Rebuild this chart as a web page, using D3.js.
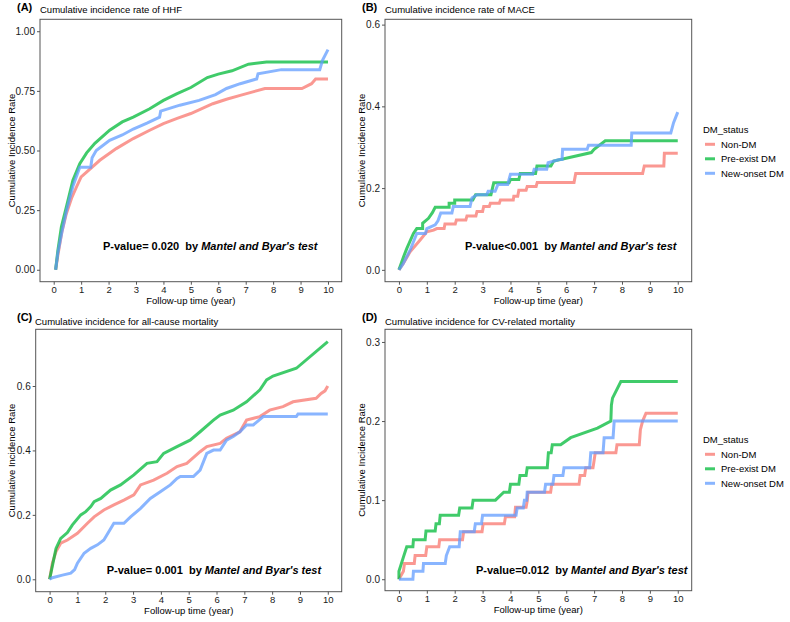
<!DOCTYPE html>
<html>
<head>
<meta charset="utf-8">
<script src="https://cdn.jsdelivr.net/npm/d3@7"></script>
<style>
  body { margin: 0; background: #fff; }
  svg text { font-family: "Liberation Sans", Arial, sans-serif; }
</style>
</head>
<body>
<div id="chart-area"></div>
<script>
// groups and shared ticks
const groups = ['Non-DM', 'Pre-exist DM', 'New-onset DM'];
const colors = ['#F8766D', '#00BA38', '#619CFF'];
const timeTicks = [0, 1, 2, 3, 4, 5, 6, 7, 8, 9, 10];

// (A) HHF  [time, cumulative incidence]
const hhfNonDM = [[0.07,0],[0.15,0.06],[0.3,0.16],[0.46,0.235],[0.65,0.3],[0.83,0.347],[1.0,0.389],[1.3,0.42],[1.68,0.459],[2.28,0.508],[2.9,0.55],[3.5,0.585],[4.0,0.613],[4.5,0.635],[5.0,0.655],[5.8,0.696],[6.3,0.715],[6.8,0.731],[7.7,0.76],[9.05,0.76],[9.4,0.78],[9.55,0.8],[10,0.8]];
const hhfPreDM = [[0.07,0],[0.15,0.08],[0.28,0.18],[0.46,0.263],[0.7,0.375],[0.95,0.445],[1.2,0.49],[1.5,0.53],[2.04,0.585],[2.5,0.62],[2.9,0.64],[3.5,0.675],[4.0,0.71],[4.5,0.738],[5.0,0.764],[5.6,0.806],[6.0,0.82],[6.5,0.834],[7.1,0.862],[7.76,0.871],[10,0.871]];
const hhfNewDM = [[0.07,0],[0.15,0.07],[0.3,0.16],[0.46,0.245],[0.7,0.35],[0.95,0.43],[1.35,0.43],[1.4,0.47],[1.55,0.5],[2.04,0.543],[2.5,0.565],[2.9,0.59],[3.4,0.615],[3.86,0.64],[3.9,0.665],[4.6,0.69],[5.3,0.71],[5.9,0.734],[6.3,0.76],[6.8,0.78],[7.4,0.8],[7.45,0.822],[8.3,0.839],[9.7,0.839],[9.8,0.878],[10,0.923]];

// (B) MACE
const maceNonDM = [[0,0],[0.15,0.015],[0.4,0.044],[0.76,0.073],[1.0,0.093],[1.24,0.097],[1.36,0.101],[1.62,0.101],[1.65,0.112],[2.02,0.112],[2.06,0.122],[2.4,0.122],[2.44,0.132],[2.76,0.132],[2.8,0.143],[3.0,0.143],[3.04,0.155],[3.24,0.155],[3.28,0.163],[3.6,0.163],[3.64,0.171],[4.1,0.171],[4.12,0.18],[4.26,0.18],[4.3,0.195],[4.56,0.195],[4.6,0.204],[4.92,0.204],[4.96,0.214],[6.28,0.214],[6.34,0.236],[8.74,0.236],[8.8,0.254],[9.5,0.254],[9.52,0.285],[10,0.285]];
const macePreDM = [[0,0],[0.16,0.031],[0.28,0.052],[0.52,0.089],[0.64,0.101],[0.85,0.101],[0.85,0.114],[1.06,0.126],[1.2,0.14],[1.3,0.153],[1.8,0.153],[1.8,0.163],[2.0,0.163],[2.0,0.171],[2.65,0.171],[2.75,0.184],[3.3,0.184],[3.4,0.213],[3.95,0.213],[4.0,0.221],[4.3,0.221],[4.35,0.236],[4.9,0.236],[4.95,0.254],[5.45,0.254],[5.55,0.266],[6.9,0.287],[7.0,0.295],[7.4,0.316],[10,0.316]];
const maceNewDM = [[0,0],[0.15,0.015],[0.4,0.048],[0.64,0.089],[0.95,0.089],[1.0,0.101],[1.3,0.11],[1.4,0.12],[1.5,0.139],[1.9,0.139],[1.95,0.155],[2.55,0.155],[2.62,0.176],[2.8,0.184],[3.15,0.184],[3.2,0.192],[3.45,0.192],[3.55,0.209],[3.9,0.209],[4.0,0.234],[4.8,0.234],[4.85,0.246],[5.3,0.246],[5.35,0.262],[5.75,0.27],[5.85,0.27],[5.87,0.295],[6.75,0.295],[6.8,0.305],[8.33,0.305],[8.35,0.335],[9.75,0.335],[9.85,0.36],[10,0.386]];

// (C) all-cause mortality
const acmNonDM = [[0,0],[0.1,0.05],[0.23,0.086],[0.4,0.112],[0.64,0.122],[1.0,0.143],[1.36,0.174],[1.6,0.194],[1.95,0.215],[2.31,0.231],[2.67,0.246],[3.03,0.262],[3.27,0.293],[3.74,0.308],[4.22,0.329],[4.58,0.35],[4.93,0.36],[5.41,0.396],[5.65,0.412],[6.13,0.422],[6.36,0.438],[6.84,0.458],[7.08,0.494],[7.56,0.505],[7.91,0.525],[8.39,0.536],[8.75,0.551],[9.58,0.562],[9.76,0.577],[9.9,0.585],[10,0.6]];
const acmPreDM = [[0,0],[0.12,0.05],[0.23,0.096],[0.4,0.127],[0.64,0.145],[0.82,0.169],[1.12,0.2],[1.3,0.21],[1.48,0.226],[1.6,0.241],[1.84,0.251],[2.19,0.277],[2.55,0.293],[3.03,0.324],[3.5,0.36],[3.86,0.365],[4.1,0.391],[4.58,0.412],[5.05,0.432],[5.41,0.458],[5.89,0.494],[6.13,0.51],[6.6,0.525],[7.08,0.551],[7.56,0.588],[7.8,0.619],[8.03,0.631],[8.87,0.655],[10,0.738]];
const acmNewDM = [[0,0],[0.1,0.005],[0.46,0.013],[0.76,0.019],[0.9,0.03],[1.0,0.05],[1.24,0.081],[1.48,0.096],[1.72,0.107],[1.95,0.122],[2.31,0.174],[2.67,0.174],[2.91,0.194],[3.27,0.22],[3.62,0.251],[3.98,0.272],[4.34,0.293],[4.58,0.313],[4.7,0.319],[5.17,0.319],[5.41,0.339],[5.65,0.391],[5.89,0.401],[6.13,0.401],[6.36,0.432],[6.6,0.443],[6.84,0.458],[7.08,0.479],[7.32,0.479],[7.68,0.505],[8.87,0.505],[8.93,0.513],[10,0.513]];

// (D) CV-related mortality
const cvmNonDM = [[0,0],[0.16,0.01],[0.2,0.02],[0.55,0.02],[0.58,0.03],[0.96,0.03],[1.0,0.041],[1.43,0.041],[1.46,0.05],[2.28,0.05],[2.32,0.06],[2.98,0.06],[3.02,0.07],[3.78,0.07],[3.82,0.079],[4.15,0.079],[4.18,0.091],[4.56,0.091],[4.6,0.099],[4.63,0.11],[5.44,0.11],[5.48,0.12],[6.46,0.12],[6.5,0.131],[6.66,0.131],[6.7,0.141],[6.96,0.141],[7.0,0.15],[7.04,0.16],[7.78,0.16],[7.82,0.17],[8.62,0.17],[8.66,0.189],[8.74,0.2],[8.86,0.21],[10,0.21]];
const cvmPreDM = [[0,0],[0,0.01],[0.16,0.028],[0.28,0.041],[0.5,0.041],[0.52,0.05],[0.94,0.05],[0.97,0.061],[1.3,0.061],[1.33,0.07],[1.45,0.07],[1.48,0.081],[2.14,0.081],[2.18,0.09],[2.62,0.09],[2.66,0.1],[3.46,0.1],[3.76,0.11],[3.96,0.11],[4.0,0.12],[4.3,0.12],[4.34,0.131],[4.56,0.131],[4.6,0.141],[5.32,0.141],[5.36,0.16],[5.46,0.16],[5.5,0.17],[5.8,0.17],[6.16,0.179],[7.12,0.191],[7.6,0.2],[7.62,0.22],[7.66,0.229],[7.96,0.25],[10,0.25]];
const cvmNewDM = [[0,0],[0.5,0],[0.52,0.01],[0.86,0.01],[0.88,0.02],[1.66,0.02],[1.7,0.03],[1.82,0.041],[2.16,0.041],[2.2,0.06],[2.7,0.06],[2.74,0.07],[2.96,0.07],[3.0,0.081],[4.2,0.081],[4.24,0.09],[4.46,0.09],[4.5,0.1],[4.58,0.1],[4.6,0.11],[5.22,0.11],[5.26,0.12],[5.52,0.12],[5.56,0.131],[5.88,0.131],[5.92,0.141],[6.84,0.141],[6.88,0.16],[7.32,0.16],[7.36,0.179],[7.68,0.179],[7.72,0.2],[10,0.2]];

const yTicksA = [0, 0.25, 0.5, 0.75, 1.0];
const yTicksB = [0, 0.2, 0.4, 0.6];
const yTicksC = [0, 0.2, 0.4, 0.6];
const yTicksD = [0, 0.1, 0.2, 0.3];

const panelTags = ['(A)', '(B)', '(C)', '(D)'];
const panelTitles = [
  'Cumulative incidence rate of HHF',
  'Cumulative incidence rate of MACE',
  'Cumulative incidence for all-cause mortality',
  'Cumulative incidence for CV-related mortality'
];
const pValueTexts = ['P-value= 0.020  by ', 'P-value<0.001  by ', 'P-value= 0.001  by ', 'P-value=0.012  by '];
const testName = "Mantel and Byar's test";

const svg = d3.select('#chart-area')
  .append('svg')
  .attr('width', 790)
  .attr('height', 622);

svg.append('rect').attr('width', 790).attr('height', 622).attr('fill', '#fff');

// layout of the four panels (plot area in pixels)
const panels = [
  { left: 40, right: 341.7, top: 19.3, bottom: 281.7, yDomain: [-0.05, 1.05], yTicks: yTicksA, fmt: '.2f',
    series: [hhfNonDM, hhfPreDM, hhfNewDM], tagX: 17, tagY: 11, titleX: 40, titleY: 13, pX: 103, pY: 250 },
  { left: 385, right: 691.7, top: 19.3, bottom: 281.7, yDomain: [-0.029, 0.613], yTicks: yTicksB, fmt: '.1f',
    series: [maceNonDM, macePreDM, maceNewDM], tagX: 362, tagY: 11, titleX: 385, titleY: 13, pX: 465, pY: 250 },
  { left: 35.7, right: 341.7, top: 329.3, bottom: 591.7, yDomain: [-0.0385, 0.776], yTicks: yTicksC, fmt: '.1f',
    series: [acmNonDM, acmPreDM, acmNewDM], tagX: 17, tagY: 321, titleX: 35, titleY: 325, pX: 106.7, pY: 573.5 },
  { left: 385, right: 691.7, top: 329.3, bottom: 590.7, yDomain: [-0.0145, 0.316], yTicks: yTicksD, fmt: '.1f',
    series: [cvmNonDM, cvmPreDM, cvmNewDM], tagX: 362, tagY: 321, titleX: 385, titleY: 325, pX: 476, pY: 573.5 }
];

panels.forEach((p, i) => {
  const x = d3.scaleLinear().domain([-0.5, 10.5]).range([p.left, p.right]);
  const y = d3.scaleLinear().domain(p.yDomain).range([p.bottom, p.top]);

  // tag and title
  svg.append('text')
    .attr('x', p.tagX).attr('y', p.tagY)
    .attr('font-size', '11px').attr('font-weight', 'bold')
    .attr('fill', '#000')
    .text(panelTags[i]);
  svg.append('text')
    .attr('x', p.titleX).attr('y', p.titleY)
    .attr('font-size', '9.5px')
    .attr('fill', '#000')
    .text(panelTitles[i]);

  // curves
  const line = d3.line()
    .x((d) => x(d[0]))
    .y((d) => y(d[1]));

  p.series.forEach((s, k) => {
    svg.append('path')
      .datum(s)
      .attr('fill', 'none')
      .attr('stroke', colors[k])
      .attr('stroke-opacity', 0.75)
      .attr('stroke-width', 3)
      .attr('d', line);
  });

  // panel border
  svg.append('rect')
    .attr('x', p.left).attr('y', p.top)
    .attr('width', p.right - p.left)
    .attr('height', p.bottom - p.top)
    .attr('fill', 'none')
    .attr('stroke', '#555')
    .attr('stroke-width', 1);

  // axes
  const xAxisCall = d3.axisBottom(x)
    .tickValues(timeTicks)
    .tickSize(3)
    .tickPadding(1.5)
    .tickFormat(d3.format('d'));
  const gx = svg.append('g')
    .attr('transform', 'translate(0, ' + p.bottom + ')')
    .call(xAxisCall);
  gx.select('.domain').remove();
  gx.selectAll('line').attr('stroke', '#555');
  gx.selectAll('text').attr('font-size', '9.5px').attr('fill', '#1a1a1a')
    .attr('font-family', '"Liberation Sans", Arial, sans-serif');

  const yAxisCall = d3.axisLeft(y)
    .tickValues(p.yTicks)
    .tickSize(3)
    .tickPadding(2)
    .tickFormat(d3.format(p.fmt));
  const gy = svg.append('g')
    .attr('transform', 'translate(' + p.left + ', 0)')
    .call(yAxisCall);
  gy.select('.domain').remove();
  gy.selectAll('line').attr('stroke', '#555');
  gy.selectAll('text').attr('font-size', '10px').attr('fill', '#1a1a1a')
    .attr('font-family', '"Liberation Sans", Arial, sans-serif');

  // axis labels
  svg.append('text')
    .attr('x', (p.left + p.right) / 2)
    .attr('y', p.bottom + 22)
    .attr('text-anchor', 'middle')
    .attr('font-size', '9.5px')
    .attr('fill', '#000')
    .text('Follow-up time (year)');

  svg.append('text')
    .attr('transform', 'translate(' + (i % 2 === 0 ? 15 : 365) + ', ' + ((p.top + p.bottom) / 2) + ') rotate(-90)')
    .attr('text-anchor', 'middle')
    .attr('font-size', '9.5px')
    .attr('fill', '#000')
    .text('Cumulative Incidence Rate');

  // p-value annotation
  const pt = svg.append('text')
    .attr('x', p.pX).attr('y', p.pY)
    .attr('font-size', '11px')
    .attr('font-weight', 'bold')
    .attr('fill', '#000')
    .style('white-space', 'pre');
  pt.append('tspan').text(pValueTexts[i]);
  pt.append('tspan').attr('font-style', 'italic').text(testName);

  // legend for right-hand panels
  if (i % 2 === 1) {
    const lg = svg.append('g').attr('transform', 'translate(703, ' + (p.top + 111) + ')');
    lg.append('text')
      .attr('x', 0).attr('y', 3)
      .attr('font-size', '9.5px').attr('fill', '#000')
      .text('DM_status');
    groups.forEach((name, k) => {
      const yy = 14 + k * 14.5;
      lg.append('line')
        .attr('x1', 2).attr('x2', 12)
        .attr('y1', yy).attr('y2', yy)
        .attr('stroke', colors[k])
        .attr('stroke-opacity', 0.75)
        .attr('stroke-width', 3);
      lg.append('text')
        .attr('x', 18).attr('y', yy + 3.5)
        .attr('font-size', '9.5px').attr('fill', '#000')
        .text(name);
    });
  }
});
</script>
</body>
</html>
